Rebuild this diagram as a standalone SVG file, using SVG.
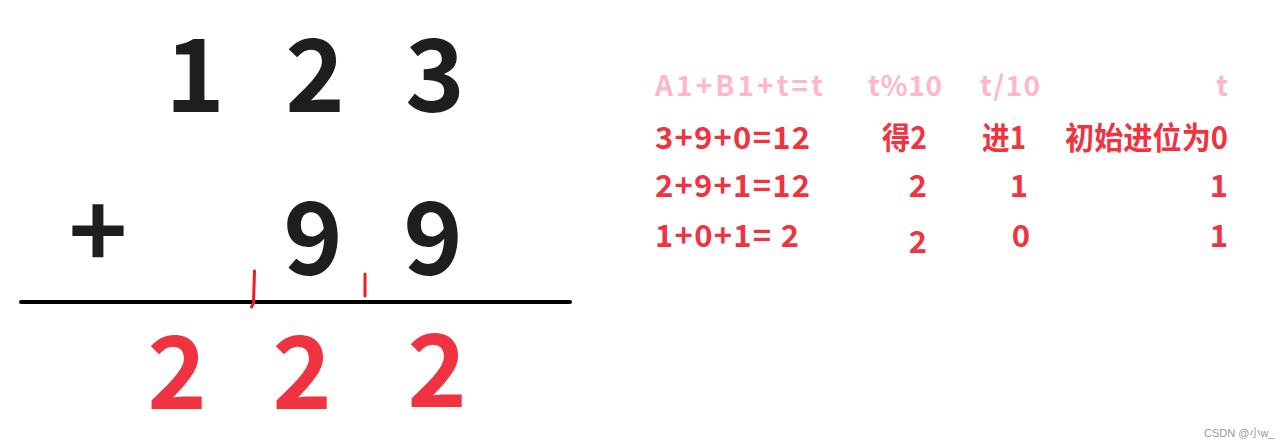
<svg xmlns="http://www.w3.org/2000/svg" width="1285" height="447" viewBox="0 0 1285 447">
<style>
.big{font-family:"Noto Sans CJK SC","Noto Sans",sans-serif;font-weight:bold;font-size:101px;text-anchor:middle}
.blk{fill:#1e1e1e}
.red{fill:#ef3340}
.hd{font-family:"Noto Sans CJK SC","Noto Sans",sans-serif;font-weight:bold;font-size:28px;fill:#ffb6c9}
.tb{font-family:"Noto Sans CJK SC","Noto Sans",sans-serif;font-weight:bold;font-size:31px;fill:#ef3340}
.end{text-anchor:end}
.wm{font-family:"Liberation Sans","Noto Sans CJK SC",sans-serif;font-size:11px;fill:#9a9a9a}
</style>
<rect width="1285" height="447" fill="#ffffff"/>
<g id="addend1">
<text class="big blk" x="195" y="112">1</text>
<text class="big blk" x="315" y="112">2</text>
<text class="big blk" x="435" y="112">3</text>
</g>
<g id="addend2">
<text class="big blk" x="98" y="268" style="font-size:100px">+</text>
<text class="big blk" x="313" y="275">9</text>
<text class="big blk" x="433" y="275">9</text>
</g>
<g id="rule">
<line x1="21" y1="302" x2="570" y2="302" stroke="#000" stroke-width="4" stroke-linecap="round"/>
<path d="M254.5 271 L253.5 303 L251.5 307" fill="none" stroke="#ee1c25" stroke-width="3" stroke-linecap="round"/>
<line x1="365" y1="274" x2="365" y2="296" stroke="#ee1c25" stroke-width="3" stroke-linecap="round"/>
</g>
<g id="sum">
<text class="big red" x="177" y="409">2</text>
<text class="big red" x="302" y="409">2</text>
<text class="big red" x="437" y="407">2</text>
</g>
<g id="table-header">
<text class="hd" x="655" y="96" textLength="168" lengthAdjust="spacing">A1+B1+t=t</text>
<text class="hd" x="868" y="96" textLength="74" lengthAdjust="spacing">t%10</text>
<text class="hd" x="980" y="96" textLength="60" lengthAdjust="spacing">t/10</text>
<text class="hd end" x="1228" y="96">t</text>
</g>
<g id="row1">
<text class="tb" x="655" y="149" textLength="155" lengthAdjust="spacing">3+9+0=12</text>
<text class="tb" x="882" y="149" textLength="45" lengthAdjust="spacingAndGlyphs">得2</text>
<text class="tb" x="982" y="149" textLength="44" lengthAdjust="spacingAndGlyphs">进1</text>
<text class="tb" x="1065" y="149" textLength="163" lengthAdjust="spacingAndGlyphs">初始进位为0</text>
</g>
<g id="row2">
<text class="tb" x="655" y="197" textLength="155" lengthAdjust="spacing">2+9+1=12</text>
<text class="tb end" x="927" y="197">2</text>
<text class="tb end" x="1028" y="197">1</text>
<text class="tb end" x="1228" y="197">1</text>
</g>
<g id="row3">
<text class="tb" x="655" y="247" textLength="144" lengthAdjust="spacing">1+0+1= 2</text>
<text class="tb end" x="927" y="253">2</text>
<text class="tb end" x="1030" y="247">0</text>
<text class="tb end" x="1228" y="247">1</text>
</g>
<g id="watermark">
<text class="wm" x="1204" y="437">CSDN @小w_</text>
</g>
</svg>
